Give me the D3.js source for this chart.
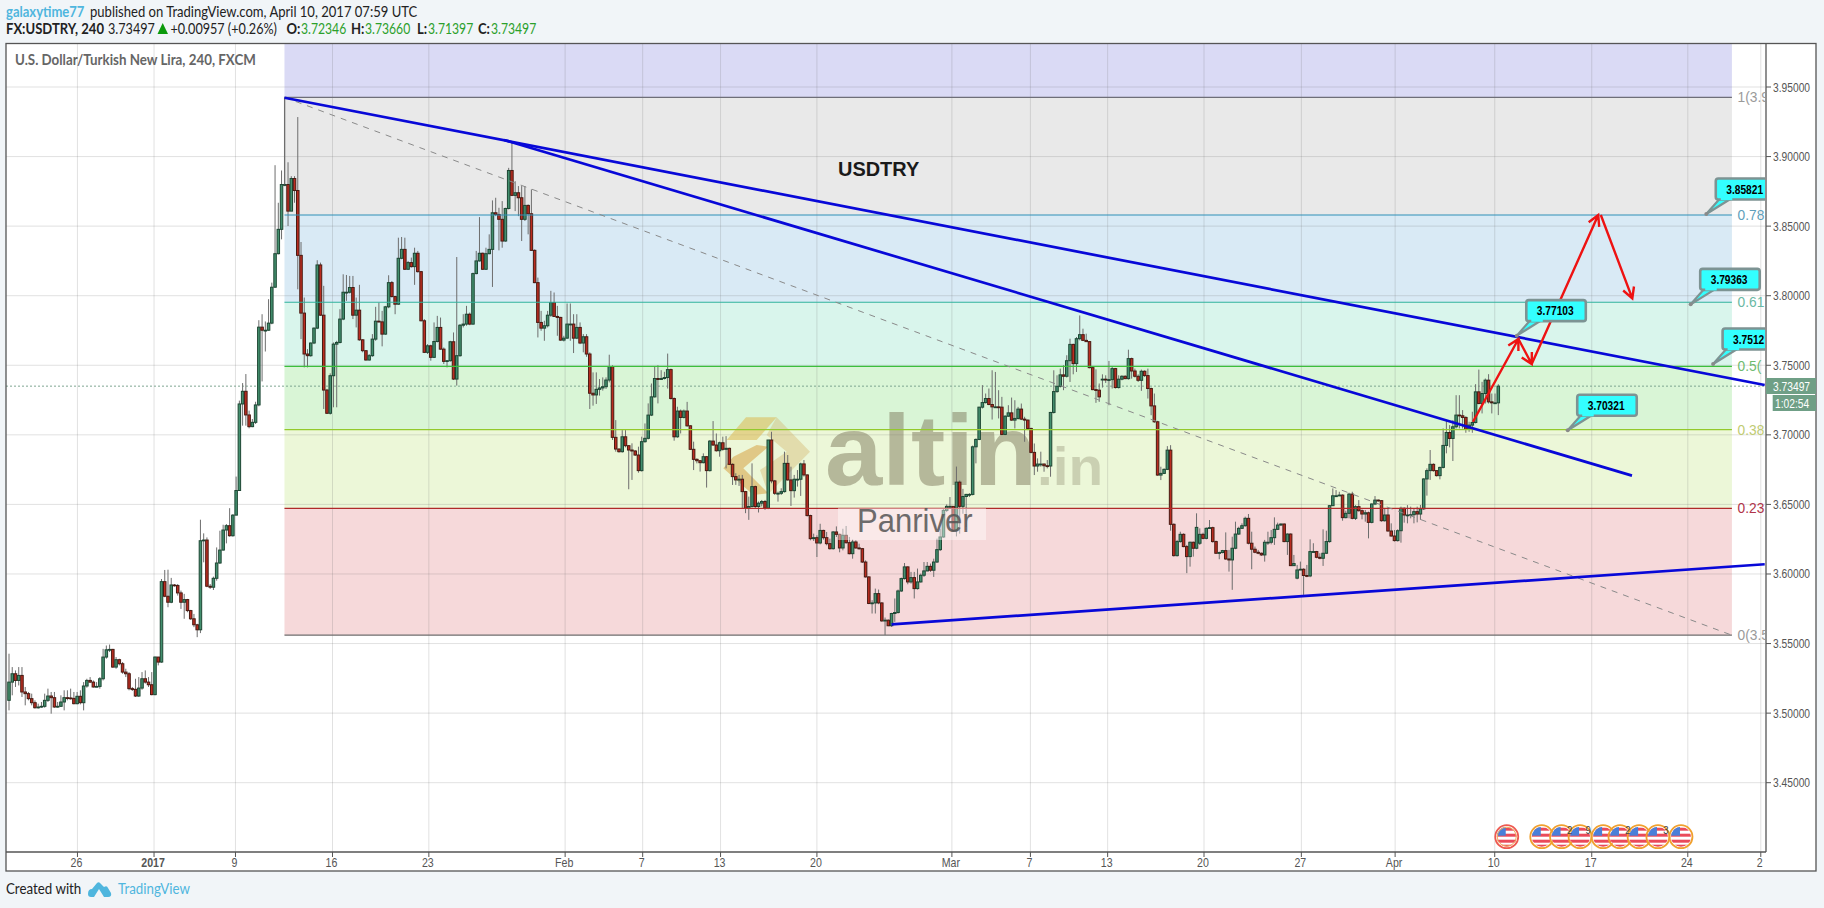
<!DOCTYPE html>
<html><head><meta charset="utf-8">
<script src="https://cdnjs.cloudflare.com/ajax/libs/d3/7.8.5/d3.min.js"></script>
<style>html,body{margin:0;padding:0;background:#f1f5f8;overflow:hidden}svg{display:block}</style>
</head><body><div id="chart"></div>
<script>
const closes=[
3.5223,3.5283,3.5235,3.5271,3.5152,3.5140,3.5104,3.5075,3.5039,3.5044,
3.5049,3.5092,3.5123,3.5111,3.5044,3.5049,3.5080,3.5111,3.5109,3.5106,
3.5068,3.5121,3.5075,3.5195,3.5235,3.5223,3.5188,3.5192,3.5247,3.5403,
3.5455,3.5458,3.5331,3.5384,3.5355,3.5295,3.5283,3.5176,3.5171,3.5123,
3.5180,3.5247,3.5223,3.5204,3.5133,3.5403,3.5367,3.5945,3.5840,3.5797,
3.5921,3.5917,3.5864,3.5797,3.5816,3.5737,3.5678,3.5635,3.5599,3.6239,
3.6244,3.5912,3.5905,3.5969,3.6079,3.6172,3.6316,3.6347,3.6275,3.6423,
3.6600,3.7222,3.7313,3.7143,3.7059,3.7090,3.7215,3.7774,3.7752,3.7752,
3.7803,3.8061,3.8302,3.8477,3.8799,3.8799,3.8608,3.8842,3.8756,3.8290,
3.7875,3.7581,3.7569,3.7660,3.7767,3.8221,3.7860,3.7322,3.7155,3.7425,
3.7652,3.7664,3.7832,3.8025,3.8025,3.8059,3.7860,3.7896,3.7683,3.7605,
3.7538,3.7569,3.7688,3.7817,3.7812,3.7724,3.7920,3.8094,3.7994,3.7939,
3.8269,3.8333,3.8190,3.8238,3.8209,3.8305,3.8173,3.7820,3.7593,3.7640,
3.7557,3.7671,3.7772,3.7616,3.7528,3.7533,3.7669,3.7401,3.7569,3.7788,
3.7796,3.7867,3.7796,3.8159,3.8250,3.8305,3.8190,3.8302,3.8333,3.8596,
3.8584,3.8549,3.8393,3.8627,3.8900,3.8721,3.8740,3.8704,3.8549,3.8649,
3.8589,3.8326,3.8094,3.7808,3.7767,3.7784,3.7860,3.7951,3.7851,3.7844,
3.7681,3.7695,3.7796,3.7796,3.7695,3.7772,3.7660,3.7705,3.7581,3.7299,
3.7287,3.7327,3.7337,3.7346,3.7394,3.7490,3.6982,3.6898,3.6879,3.6986,
3.6922,3.6891,3.6884,3.6855,3.6743,3.6951,3.6975,3.7142,3.7273,3.7405,
3.7398,3.7405,3.7412,3.7469,3.7261,3.6986,3.7171,3.7125,3.7171,3.7065,
3.6896,3.6824,3.6814,3.6800,3.6843,3.6743,3.6955,3.6927,3.6886,3.6943,
3.6896,3.6903,3.6788,3.6700,3.6676,3.6681,3.6592,3.6473,3.6485,3.6628,
3.6485,3.6509,3.6521,3.6473,3.6963,3.6669,3.6580,3.6580,3.6592,3.6795,
3.6676,3.6599,3.6681,3.6681,3.6791,3.6712,3.6420,3.6254,3.6261,3.6223,
3.6313,3.6261,3.6218,3.6182,3.6302,3.6285,3.6187,3.6278,3.6225,3.6146,
3.6230,3.6187,3.6182,3.6086,3.5979,3.5788,3.5792,3.5859,3.5792,3.5663,
3.5668,3.5628,3.5716,3.5723,3.5878,3.5967,3.6051,3.5943,3.5974,3.5895,
3.5943,3.5991,3.6022,3.6055,3.6027,3.6086,3.6175,3.6266,3.6457,3.6486,
3.6486,3.6313,3.6660,3.6486,3.6557,3.6572,3.6572,3.6914,3.6967,3.7199,
3.7232,3.7261,3.7218,3.7201,3.7201,3.7199,3.7003,3.7134,3.7158,3.7106,
3.7118,3.7185,3.7113,3.7106,3.7046,3.6874,3.6776,3.6790,3.6790,3.6778,
3.6776,3.7161,3.7311,3.7349,3.7431,3.7421,3.7533,3.7650,3.7512,3.7691,
3.7720,3.7679,3.7670,3.7483,3.7325,3.7321,3.7273,3.7400,3.7397,3.7397,
3.7476,3.7340,3.7400,3.7421,3.7404,3.7548,3.7459,3.7421,3.7392,3.7457,
3.7426,3.7333,3.7208,3.7094,3.6711,3.6723,3.6752,3.6890,3.6357,3.6132,
3.6233,3.6285,3.6197,3.6125,3.6228,3.6185,3.6335,3.6285,3.6256,3.6328,
3.6333,3.6233,3.6149,3.6154,3.6168,3.6108,3.6101,3.6185,3.6287,3.6328,
3.6347,3.6400,3.6221,3.6178,3.6156,3.6149,3.6137,3.6228,3.6228,3.6261,
3.6321,3.6352,3.6359,3.6233,3.6287,3.6060,3.6075,3.6029,3.6034,3.5989,
3.5986,3.6161,3.6161,3.6120,3.6113,3.6149,3.6233,3.6491,3.6562,3.6562,
3.6567,3.6405,3.6436,3.6574,3.6400,3.6484,3.6455,3.6431,3.6440,3.6371,
3.6503,3.6531,3.6527,3.6383,3.6424,3.6309,3.6273,3.6240,3.6311,3.6472,
3.6424,3.6424,3.6426,3.6448,3.6431,3.6468,3.6683,3.6743,3.6788,3.6743,
3.6707,3.6766,3.6924,3.7017,3.6974,3.7058,3.7142,3.7137,3.7125,3.7039,
3.7070,3.7089,3.7309,3.7225,3.7297,3.7393,3.7237,3.7230,3.7230,3.7350];
const highs=[
3.5427,3.5331,3.5307,3.5331,3.5331,3.5188,3.5152,3.5140,3.5092,3.5068,
3.5080,3.5140,3.5176,3.5152,3.5152,3.5080,3.5128,3.5164,3.5164,3.5176,
3.5152,3.5152,3.5164,3.5223,3.5247,3.5259,3.5235,3.5223,3.5259,3.5462,
3.5486,3.5493,3.5462,3.5403,3.5391,3.5367,3.5319,3.5295,3.5188,3.5247,
3.5259,3.5295,3.5307,3.5259,3.5295,3.5407,3.5403,3.5964,3.6029,3.6031,
3.5972,3.5928,3.5928,3.5881,3.5857,3.5821,3.5742,3.5713,3.5642,3.6390,
3.6292,3.6263,3.5928,3.5981,3.6191,3.6311,3.6354,3.6359,3.6473,3.6430,
3.6700,3.7246,3.7372,3.7437,3.7174,3.7114,3.7238,3.7824,3.7867,3.7815,
3.7975,3.8094,3.8938,3.8668,3.8900,3.9426,3.8959,3.8859,3.8859,3.9284,
3.8386,3.7987,3.7616,3.7664,3.7772,3.8255,3.8238,3.8071,3.7330,3.7442,
3.7664,3.7676,3.7903,3.8154,3.8149,3.8142,3.8142,3.7987,3.8078,3.7688,
3.7605,3.7581,3.7724,3.7920,3.7951,3.7891,3.7927,3.8147,3.8106,3.7999,
3.8417,3.8422,3.8417,3.8250,3.8274,3.8345,3.8322,3.8178,3.7832,3.7652,
3.7648,3.7808,3.7855,3.7843,3.7628,3.7533,3.7676,3.7736,3.8278,3.7796,
3.7867,3.7927,3.7879,3.8166,3.8322,3.8565,3.8310,3.8345,3.8441,3.8685,
3.8704,3.8632,3.8680,3.8632,3.8919,3.9105,3.8823,3.8788,3.8788,3.8788,
3.8656,3.8764,3.8333,3.8130,3.7891,3.7820,3.7891,3.8035,3.8023,3.7927,
3.7848,3.7712,3.7944,3.7944,3.7867,3.7867,3.7808,3.7724,3.7724,3.7593,
3.7449,3.7449,3.7401,3.7413,3.7413,3.7576,3.7500,3.7106,3.6903,3.7034,
3.7034,3.6927,3.6939,3.6891,3.6915,3.6987,3.7082,3.7226,3.7369,3.7488,
3.7500,3.7465,3.7453,3.7584,3.7476,3.7269,3.7202,3.7182,3.7182,3.7237,
3.7070,3.6951,3.6831,3.6819,3.6867,3.6848,3.6963,3.7099,3.7010,3.6951,
3.6987,3.6991,3.6908,3.6795,3.6724,3.6712,3.6712,3.6597,3.6556,3.6795,
3.6635,3.6521,3.6532,3.6532,3.6963,3.7022,3.6676,3.6592,3.6616,3.6879,
3.6855,3.6771,3.6712,3.6747,3.6800,3.6819,3.6716,3.6426,3.6290,3.6278,
3.6361,3.6318,3.6302,3.6254,3.6309,3.6342,3.6290,3.6325,3.6345,3.6266,
3.6247,3.6242,3.6218,3.6187,3.6098,3.5984,3.5812,3.5895,3.5888,3.5797,
3.5687,3.5673,3.5721,3.5824,3.5888,3.5974,3.6079,3.6055,3.6015,3.6015,
3.6039,3.6003,3.6086,3.6086,3.6075,3.6110,3.6254,3.6325,3.6469,3.6500,
3.6553,3.6481,3.6772,3.6672,3.6612,3.6576,3.6581,3.6923,3.6974,3.7201,
3.7357,3.7297,3.7333,3.7464,3.7452,3.7321,3.7273,3.7141,3.7213,3.7268,
3.7249,3.7201,3.7225,3.7130,3.7110,3.7051,3.6938,3.6831,3.6879,3.6795,
3.6819,3.7165,3.7464,3.7428,3.7476,3.7500,3.7572,3.7691,3.7655,3.7703,
3.7858,3.7763,3.7727,3.7674,3.7488,3.7471,3.7369,3.7435,3.7428,3.7531,
3.7488,3.7481,3.7428,3.7428,3.7428,3.7612,3.7555,3.7476,3.7435,3.7469,
3.7464,3.7476,3.7340,3.7297,3.7101,3.6771,3.6759,3.6919,3.6926,3.6364,
3.6245,3.6304,3.6292,3.6209,3.6233,3.6233,3.6436,3.6328,3.6297,3.6335,
3.6388,3.6340,3.6240,3.6161,3.6173,3.6299,3.6173,3.6268,3.6376,3.6340,
3.6364,3.6412,3.6431,3.6304,3.6197,3.6173,3.6154,3.6245,3.6304,3.6316,
3.6407,3.6369,3.6364,3.6364,3.6292,3.6292,3.6137,3.6065,3.6089,3.6041,
3.6065,3.6249,3.6221,3.6166,3.6149,3.6321,3.6311,3.6495,3.6615,3.6603,
3.6591,3.6572,3.6455,3.6584,3.6591,3.6495,3.6531,3.6464,3.6460,3.6448,
3.6507,3.6560,3.6536,3.6531,3.6472,3.6472,3.6364,3.6316,3.6321,3.6484,
3.6479,3.6495,3.6484,3.6472,3.6484,3.6496,3.6688,3.6759,3.6891,3.6795,
3.6747,3.6771,3.7046,3.7101,3.7070,3.7106,3.7285,3.7285,3.7178,3.7134,
3.7094,3.7166,3.7364,3.7469,3.7381,3.7405,3.7436,3.7297,3.7297,3.7364];
const lows=[
3.5020,3.5128,3.5188,3.5199,3.5116,3.5056,3.5092,3.5056,3.5032,3.5032,
3.5039,3.5039,3.5080,3.4996,3.5039,3.5039,3.5044,3.5020,3.5092,3.5097,
3.5063,3.5063,3.5063,3.5020,3.5183,3.5216,3.5183,3.5188,3.5176,3.5235,
3.5391,3.5439,3.5326,3.5319,3.5343,3.5283,3.5259,3.5164,3.5159,3.5116,
3.5116,3.5168,3.5212,3.5188,3.5128,3.5128,3.5343,3.5362,3.5833,3.5761,
3.5790,3.5909,3.5845,3.5749,3.5678,3.5725,3.5670,3.5618,3.5546,3.5575,
3.6084,3.5905,3.5893,3.5885,3.5952,3.6072,3.6168,3.6220,3.6268,3.6268,
3.6423,3.6600,3.7066,3.7066,3.7047,3.7055,3.7078,3.7205,3.7384,3.7599,
3.7748,3.7795,3.8058,3.8297,3.8405,3.8787,3.8501,3.8608,3.8668,3.8046,
3.7688,3.7485,3.7485,3.7561,3.7652,3.7760,3.7855,3.7186,3.7150,3.7146,
3.7198,3.7198,3.7657,3.7824,3.7963,3.8016,3.7832,3.7772,3.7676,3.7593,
3.7533,3.7533,3.7561,3.7676,3.7808,3.7636,3.7719,3.7910,3.7987,3.7867,
3.7934,3.8262,3.8185,3.8185,3.8202,3.8078,3.8166,3.7815,3.7588,3.7581,
3.7533,3.7552,3.7664,3.7612,3.7509,3.7485,3.7526,3.7394,3.7354,3.7561,
3.7772,3.7784,3.7788,3.7791,3.8154,3.8245,3.8185,3.8185,3.8298,3.8063,
3.8572,3.8326,3.8345,3.8388,3.8620,3.8716,3.8608,3.8572,3.8393,3.8537,
3.8441,3.8322,3.8090,3.7700,3.7748,3.7676,3.7772,3.7848,3.7848,3.7712,
3.7676,3.7671,3.7691,3.7676,3.7588,3.7688,3.7652,3.7593,3.7561,3.7186,
3.7210,3.7222,3.7282,3.7318,3.7330,3.7377,3.6963,3.6879,3.6872,3.6872,
3.6910,3.6609,3.6676,3.6848,3.6728,3.6736,3.6943,3.6967,3.7135,3.7268,
3.7226,3.7398,3.7398,3.7333,3.7254,3.6958,3.6979,3.7010,3.7118,3.7058,
3.6891,3.6747,3.6795,3.6736,3.6795,3.6621,3.6736,3.6920,3.6879,3.6843,
3.6886,3.6759,3.6783,3.6640,3.6640,3.6633,3.6473,3.6437,3.6389,3.6478,
3.6473,3.6442,3.6485,3.6461,3.6466,3.6652,3.6568,3.6520,3.6568,3.6585,
3.6671,3.6489,3.6549,3.6628,3.6561,3.6700,3.6413,3.6242,3.6237,3.6122,
3.6213,3.6247,3.6206,3.6175,3.6175,3.6266,3.6156,3.6170,3.6218,3.6141,
3.6110,3.6182,3.6175,3.6079,3.5974,3.5783,3.5716,3.5716,3.5783,3.5656,
3.5561,3.5625,3.5620,3.5656,3.5716,3.5871,3.5960,3.5926,3.5931,3.5824,
3.5888,3.5938,3.5979,3.6020,3.6015,3.5979,3.6079,3.6165,3.6261,3.6445,
3.6469,3.6302,3.6270,3.6290,3.6433,3.6337,3.6553,3.6565,3.6795,3.6962,
3.7189,3.7225,3.7213,3.7110,3.7196,3.7118,3.6998,3.6998,3.7130,3.7101,
3.7046,3.7110,3.7106,3.6950,3.7034,3.6867,3.6711,3.6735,3.6771,3.6735,
3.6759,3.6699,3.7153,3.7302,3.7340,3.7321,3.7412,3.7380,3.7435,3.7452,
3.7679,3.7674,3.7667,3.7478,3.7321,3.7230,3.7237,3.7340,3.7373,3.7213,
3.7333,3.7333,3.7333,3.7392,3.7400,3.7397,3.7404,3.7412,3.7380,3.7316,
3.7416,3.7261,3.7141,3.7086,3.6706,3.6675,3.6718,3.6747,3.6311,3.6125,
3.6125,3.6225,3.6192,3.6006,3.6053,3.6125,3.6178,3.6209,3.6249,3.6249,
3.6328,3.6225,3.6144,3.6106,3.6149,3.6101,3.6017,3.5886,3.6178,3.6280,
3.6328,3.6340,3.6213,3.6034,3.6149,3.6142,3.6130,3.6089,3.6209,3.6213,
3.6209,3.6316,3.6345,3.6228,3.6137,3.6058,3.6058,3.5962,3.6029,3.5850,
3.5977,3.5977,3.6154,3.6113,3.6106,3.6058,3.6144,3.6225,3.6488,3.6555,
3.6560,3.6383,3.6400,3.6400,3.6393,3.6388,3.6448,3.6393,3.6376,3.6256,
3.6364,3.6495,3.6519,3.6376,3.6376,3.6304,3.6268,3.6233,3.6233,3.6225,
3.6369,3.6364,3.6400,3.6364,3.6371,3.6389,3.6460,3.6563,3.6676,3.6735,
3.6700,3.6680,3.6759,3.6867,3.6910,3.6812,3.7046,3.7046,3.7046,3.7015,
3.7022,3.7015,3.7082,3.7220,3.7154,3.7225,3.7225,3.7154,3.7225,3.7142];
const openOverrides={0:3.5092,337:3.7400,367:3.6221,397:3.5970};

const timeTickIndex=[21.1,44.7,69.8,99.7,129.4,171.4,195.3,219.3,249,290.6,314.8,338.6,368.3,398.3,427.2,457.9,487.8,517.4,539.9];
const timeTickLabels=["26","2017","9","16","23","Feb","7","13","20","Mar","7","13","20","27","Apr","10","17","24","2"];
const priceTicks=[3.95,3.90,3.85,3.80,3.75,3.70,3.65,3.60,3.55,3.50,3.45];

const fibPrices=[3.9426,3.8580,3.7953,3.7492,3.7038,3.6472,3.5560];
const fibLabels=["1(3.9","0.78","0.61","0.5(","0.38","0.23","0(3.5"];
const fibLineColors=["#6e6e78","#2f8fb8","#2fb29c","#3cbf3c","#93c92c","#b02a2a","#6e6e6e"];
const fibLabelColors=["#9a9a9a","#5f9fbb","#69b9a4","#6fbb6f","#c0cb72","#b0344a","#9a9a9a"];
const fibBands=["#dadaf5","#e9e9e9","#d9eaf5","#d9f5ec","#d9f5d6","#ecf7d8","#f6d9da"];
const fibStartEnd=[84.9,531.0];

const trendLines=[[[84.9,3.9423],[541.1,3.7358]],[[152.6,3.9119],[500.2,3.6707]],[[272.0,3.5638],[541.1,3.6070]]];
const dashedLine=[[84.9,3.9426],[531.0,3.5560]];
const arrows=[[[451.2,3.7094],[465.2,3.7689]],[[465.2,3.7689],[469.3,3.7509]],[[469.3,3.7509],[489.8,3.8580]],[[490.6,3.8580],[500.3,3.7981]]];
const calloutIdx=[523.1,518.3,464.7,525.2,480.4];
const calloutPrice=[3.8587,3.7938,3.7713,3.7509,3.7033];
const calloutText=["3.85821","3.79363","3.77103","3.7512","3.70321"];
const eventIdx=[461.6,472.4,478.5,484.2,491.3,496.5,502.4,508.2,515.3];
const eventCount=["","","2","9","","2","","3",""];

const W=1824,H=908,L=6,T=43.5,R=1816,AX=1766,PB=852,FB=871;
const x=d3.scaleLinear().domain([0,459]).range([9,1498.3]);
const y=d3.scaleLinear().domain([3.95,3.45]).range([87,782.7]);
const svg=d3.select("#chart").append("svg").attr("width",W).attr("height",H);
const SANS="'Liberation Sans',Arial,sans-serif", HEAD="Lato,'Open Sans',sans-serif";
function txt(g,px,py,s,o={}){
  return g.append("text").attr("transform",`translate(${px},${py}) scale(${o.sx||0.87},1)`)
   .attr("text-anchor",o.anchor||"start").attr("font-family",o.family||SANS)
   .attr("font-size",o.size||12).attr("font-weight",o.weight||"normal").attr("fill",o.fill||"#555")
   .attr("opacity",o.opacity==null?1:o.opacity).text(s);
}
const defs=svg.append("defs");
defs.append("clipPath").attr("id","plot").append("rect").attr("x",L).attr("y",T).attr("width",AX-L-1).attr("height",PB-T);

svg.append("rect").attr("width",W).attr("height",H).attr("fill","#f1f5f8");
svg.append("rect").attr("x",L).attr("y",T).attr("width",R-L).attr("height",FB-T).attr("fill","#fff");

// header
const HD=svg.append("g");
const hs={family:HEAD,size:14.5,fill:"#222",sx:0.9};
txt(HD,6,16.5,"galaxytime77",{...hs,fill:"#4fb6de",weight:"bold"});
txt(HD,90,16.5,"published on TradingView.com, April 10, 2017 07:59 UTC",hs);
txt(HD,6,34,"FX:USDTRY, 240",{...hs,weight:"bold"});
txt(HD,108,34,"3.73497",{...hs,sx:.87});
HD.append("path").attr("d","M157.5,34L168,34L162.7,23Z").attr("fill","#0c9a0c");
txt(HD,170.5,34,"+0.00957 (+0.26%)",{...hs,sx:.87});
const ohlcLab=["O:","H:","L:","C:"],ohlcVal=["3.72346","3.73660","3.71397","3.73497"],ohlcLX=[286.5,351,417,478],ohlcVX=[301,365,428,491];
ohlcLab.forEach((l,i)=>{txt(HD,ohlcLX[i],34,l,{...hs,weight:"bold"});txt(HD,ohlcVX[i],34,ohlcVal[i],{...hs,fill:"#2ba02b",sx:.84});});

const plot=svg.append("g").attr("clip-path","url(#plot)");
const bandX0=x(fibStartEnd[0]),bandX1=x(fibStartEnd[1]);

// bands
fibBands.forEach((c,i)=>{
  const top=i===0?T:y(fibPrices[i-1]), bot=y(fibPrices[i]);
  plot.append("rect").attr("x",bandX0).attr("width",bandX1-bandX0).attr("y",top).attr("height",bot-top).attr("fill",c);
});
// grid
plot.selectAll("line.gy").data(priceTicks).join("line").attr("x1",L).attr("x2",AX).attr("y1",d=>y(d)).attr("y2",d=>y(d)).attr("stroke","#6a6a6a").attr("stroke-opacity",.2).attr("stroke-width",1);
plot.selectAll("line.gx").data(timeTickIndex).join("line").attr("y1",T).attr("y2",PB).attr("x1",d=>x(d)).attr("x2",d=>x(d)).attr("stroke","#6a6a6a").attr("stroke-opacity",.2).attr("stroke-width",1);

// logo + altin watermark under the candles
const wm=plot.append("g");
const zp=a=>a.map(p=>[620+p[0]/3,380+p[1]/3].join(",")).join(" ");
wm.append("polygon").attr("points",zp([[378,112],[470,112],[410,180],[320,180]])).attr("fill","#dcb850").attr("opacity",.55);
wm.append("polygon").attr("points",zp([[470,112],[570,215],[445,342],[420,270],[500,215],[440,165]])).attr("fill","#d4b870").attr("opacity",.42);
wm.append("polygon").attr("points",zp([[340,230],[410,195],[445,200],[370,265],[445,340],[400,345],[310,265]])).attr("fill","#d9a850").attr("opacity",.6);
txt(wm,825,485,"altin",{size:100,weight:"bold",fill:"#7f7a5e",opacity:.5,sx:1.03});
txt(wm,1037,485,".in",{size:53,weight:"bold",fill:"#7f7a5e",opacity:.3,sx:1.07});

// last price dotted line
plot.append("line").attr("x1",L).attr("x2",AX).attr("y1",y(closes[459])).attr("y2",y(closes[459])).attr("stroke","#7fa591").attr("stroke-width",1).attr("stroke-dasharray","2 2");

// candles
const bars=closes.map((c,i)=>({i,c,h:highs[i],l:lows[i],o:openOverrides[i]!==undefined?openOverrides[i]:closes[i-1]}));
const cg=plot.append("g");
cg.selectAll("line").data(bars).join("line").attr("x1",d=>x(d.i)).attr("x2",d=>x(d.i)).attr("y1",d=>y(d.h)).attr("y2",d=>y(d.l)).attr("stroke","#6d6d6d").attr("stroke-width",1);
cg.selectAll("rect").data(bars).join("rect").attr("x",d=>x(d.i)-1.25).attr("width",2.5)
  .attr("y",d=>y(Math.max(d.o,d.c))).attr("height",d=>Math.max(.8,Math.abs(y(d.o)-y(d.c))))
  .attr("fill",d=>d.c>=d.o?"#438f6e":"#bb2c20").attr("stroke",d=>d.c>=d.o?"#1d4633":"#481a12").attr("stroke-width",1);

// fib lines + dashed trend
fibPrices.forEach((p,i)=>{
  plot.append("line").attr("x1",bandX0).attr("x2",bandX1).attr("y1",y(p)).attr("y2",y(p)).attr("stroke",fibLineColors[i]).attr("stroke-width",1.2);
  txt(plot,1737.5,y(p)+5,fibLabels[i],{size:14.5,fill:fibLabelColors[i],sx:.95});
});
plot.append("line").attr("x1",bandX0).attr("x2",bandX0).attr("y1",y(fibPrices[0])).attr("y2",y(3.88)).attr("stroke","#6e6e6e").attr("stroke-width",1);
const ln=d3.line().x(d=>x(d[0])).y(d=>y(d[1]));
plot.append("path").attr("d",ln(dashedLine)).attr("fill","none").attr("stroke","#8a8a8a").attr("stroke-width",1).attr("stroke-dasharray","6 6");
trendLines.forEach(t=>plot.append("path").attr("d",ln(t)).attr("fill","none").attr("stroke","#0808d8").attr("stroke-width",2.7));

// red arrows
arrows.forEach(a=>{
  const p0=[x(a[0][0]),y(a[0][1])],p1=[x(a[1][0]),y(a[1][1])];
  const ang=Math.atan2(p1[1]-p0[1],p1[0]-p0[0]),len=12;
  const h1=[p1[0]-len*Math.cos(ang-.5),p1[1]-len*Math.sin(ang-.5)],h2=[p1[0]-len*Math.cos(ang+.5),p1[1]-len*Math.sin(ang+.5)];
  plot.append("path").attr("d",`M${p0}L${p1}M${h1}L${p1}L${h2}`).attr("fill","none").attr("stroke","#ee1212").attr("stroke-width",2.4);
});

// callouts
calloutText.forEach((s,i)=>{
  const px=x(calloutIdx[i]),py=y(calloutPrice[i]),bx=px+9.5,by=py-35.5;
  const g=plot.append("g");
  g.append("path").attr("d",`M${px},${py}L${bx+5},${by+19}L${bx+17},${by+19}Z`).attr("fill","#33ffff").attr("stroke","#7d9393").attr("stroke-width",2.2);
  g.append("rect").attr("x",bx).attr("y",by).attr("width",59.5).attr("height",21).attr("rx",2.5).attr("fill","#33ffff").attr("stroke","#7d9393").attr("stroke-width",2.6);
  g.append("rect").attr("x",bx+5).attr("y",by+18).attr("width",11.5).attr("height",3.6).attr("fill","#33ffff");
  g.append("circle").attr("cx",px).attr("cy",py).attr("r",2).attr("fill","#8a8a8a");
  txt(g,bx+10.5,by+15,s,{size:12,weight:"bold",fill:"#000",family:"'Liberation Sans',sans-serif",sx:.85});
});

// USDTRY caption
txt(svg,838,175.5,"USDTRY",{size:21,weight:"bold",fill:"#1a1a1a",sx:.95});

// Panriver box on top of candles
plot.append("rect").attr("x",838).attr("y",508).attr("width",148).attr("height",32).attr("fill","#fff").attr("opacity",.42);
txt(plot,857,531.5,"Panriver",{size:33,fill:"#555",opacity:.85,sx:.94});

// event flags
const flagRow=836.7,flagR=11.5;
defs.append("clipPath").attr("id","flagclip").append("circle").attr("r",flagR-1.5);
const fg=plot.selectAll("g.ev").data(eventIdx).join("g").attr("transform",d=>`translate(${x(d)},${flagRow})`);
fg.each(function(d,i){
  const g=d3.select(this);
  const inner=g.append("g").attr("clip-path","url(#flagclip)");
  inner.append("rect").attr("x",-12).attr("y",-12).attr("width",24).attr("height",24).attr("fill","#fff");
  [-9,-3,3,8].forEach(v=>inner.append("rect").attr("x",-12).attr("y",v).attr("width",24).attr("height",3).attr("fill","#ea4a5a"));
  inner.append("rect").attr("x",-12).attr("y",-12).attr("width",11).attr("height",11).attr("fill","#4a7fd8");
  g.append("circle").attr("r",flagR).attr("fill","none").attr("stroke",i===0?"#ee5a50":"#f0a02e").attr("stroke-width",1.8);
  if(i===0)g.append("circle").attr("r",flagR-2).attr("fill","none").attr("stroke","#f0b060").attr("stroke-width",1);
});
eventCount.forEach((s,i)=>{ if(s) txt(plot,x(eventIdx[i])+8,flagRow-3,s,{size:11,fill:"#444",anchor:"middle"}); });

// frame + axes
const ax=svg.append("g").attr("stroke","#555");
ax.append("rect").attr("x",L).attr("y",T).attr("width",R-L).attr("height",FB-T).attr("fill","none").attr("stroke-width",1.3);
ax.append("line").attr("x1",AX).attr("x2",AX).attr("y1",T).attr("y2",PB).attr("stroke-width",1.3);
ax.append("line").attr("x1",L).attr("x2",AX).attr("y1",PB).attr("y2",PB).attr("stroke-width",1.3);
ax.selectAll("line.ty").data(priceTicks).join("line").attr("x1",AX).attr("x2",AX+5).attr("y1",d=>y(d)).attr("y2",d=>y(d));
ax.selectAll("line.tx").data(timeTickIndex).join("line").attr("y1",PB).attr("y2",PB+5).attr("x1",d=>x(d)).attr("x2",d=>x(d));
const fmt=d3.format(".5f");
priceTicks.forEach(p=>txt(svg,1773,y(p)+4.5,fmt(p),{size:12.5,fill:"#555",sx:.82}));
timeTickLabels.forEach((s,i)=>txt(svg,x(timeTickIndex[i])-1,867,s,{size:12.5,fill:"#555",anchor:"middle",weight:s==="2017"?"bold":"normal",sx:.85}));

// last price + countdown
svg.append("rect").attr("x",AX).attr("y",378).attr("width",R-AX).attr("height",16).attr("fill","#6f9f86");
svg.append("rect").attr("x",1772.7).attr("y",395).attr("width",R-1772.7).attr("height",16).attr("fill","#6f9f86");
txt(svg,1773,390.5,"3.73497",{size:12.5,fill:"#fff",sx:.82});
txt(svg,1775,407.5,"1:02:54",{size:12.5,fill:"#fff",sx:.82});

// title
txt(svg,15,65,"U.S. Dollar/Turkish New Lira, 240, FXCM",{family:HEAD,size:14.5,weight:"bold",fill:"#666",sx:.92});

// footer
txt(svg,6,894,"Created with",{...hs,sx:.92});
svg.append("path").attr("d","M88,894Q88,889 92,889L97,883Q99,881 101,884L104,887Q107,885 108,888L111,893Q112,897 108,897L104,897L99,889L94,897L91,897Q88,897 88,894Z").attr("fill","#4fb6de");
txt(svg,118,894,"TradingView",{...hs,fill:"#4fb6de",sx:.92});
</script></body></html>
